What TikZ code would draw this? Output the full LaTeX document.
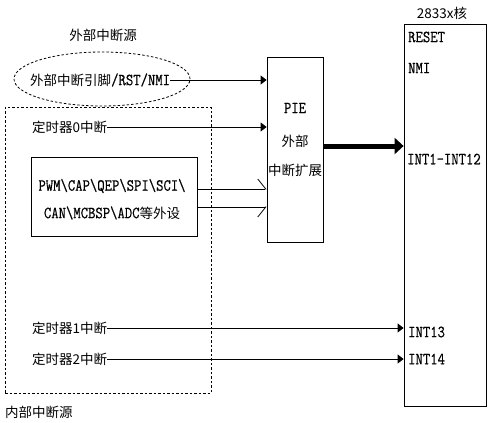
\documentclass[tikz,border=0pt]{standalone}
\usepackage{fontspec}
\setmainfont[FakeStretch=0.84,FakeBold=0.6]{Latin Modern Mono}
\newfontfamily\cjk{Noto Sans CJK SC}
\usetikzlibrary{arrows.meta,shapes.geometric}
\begin{document}
\begin{tikzpicture}[x=1pt,y=-1pt,
  font=\fontsize{17}{19}\selectfont,
  cjkfont/.style={font=\fontsize{13.5}{16}\selectfont},
  thin line/.style={line width=0.8pt},
  frame/.style={draw, thin line, inner sep=0pt},
  dashbox/.style={draw, line width=0.8pt, dash pattern=on 2.5pt off 2pt},
  lbl/.style={inner sep=0pt, anchor=west},
  sig/.style={thin line, -{Triangle[length=6pt,width=9pt]}},
  harpup/.style={thin line, -{Straight Barb[harpoon,length=8pt,width=20pt]}},
  harpdn/.style={thin line, -{Straight Barb[harpoon,swap,length=8pt,width=20pt]}},
  bus/.style={line width=5pt, -{Triangle[length=9pt,width=16pt]}}]
\useasboundingbox (0,0) rectangle (490,423);
\newcommand\zh[1]{{\fontsize{13.5}{16}\selectfont\cjk #1}}

% external source
\node[inner sep=0pt] (exttitle) at (103,35) {\zh{外部中断源}};
\node[dashbox, ellipse, minimum width=176pt, minimum height=54pt] (extell) at (102,79) {};
\node[lbl] (ext) at (30,80) {\zh{外部中断引脚}/RST/NMI};

% internal source frame
\node[dashbox, minimum width=206pt, minimum height=286pt, inner sep=0pt] (intframe) at (108,250) {};
\node[lbl] (inttitle) at (5,412) {\zh{内部中断源}};

\node[lbl] (t0) at (32,127) {\zh{定时器0中断}};
\node[frame, minimum width=166pt, minimum height=79pt] (periph) at (114,196.5) {};
\node[inner sep=0pt] (pl1) at (112,186) {PWM\textbackslash CAP\textbackslash QEP\textbackslash SPI\textbackslash SCI\textbackslash};
\node[inner sep=0pt] (pl2) at (112,213) {CAN\textbackslash MCBSP\textbackslash ADC\zh{等外设}};
\coordinate (po1) at (197,189);
\coordinate (po2) at (197,207);

\node[lbl] (t1) at (32,328) {\zh{定时器1中断}};
\node[lbl] (t2) at (32,359) {\zh{定时器2中断}};

% PIE
\node[frame, minimum width=56pt, minimum height=185pt] (pie) at (295,149.5) {};
\node[inner sep=0pt] (pie1) at (295,108) {PIE};
\node[inner sep=0pt] (pie2) at (295,141) {\zh{外部}};
\node[inner sep=0pt] (pie3) at (295,170) {\zh{中断扩展}};

% core
\node[frame, minimum width=82pt, minimum height=382pt] (core) at (445,215) {};
\node[inner sep=0pt] (coretitle) at (442,13) {\zh{2833x核}};
\node[lbl] (reset) at (408,37) {RESET};
\node[lbl] (nmi) at (408,68) {NMI};
\node[lbl] (int1) at (407,159) {INT1-INT12};
\node[lbl] (int13) at (408,332) {INT13};
\node[lbl] (int14) at (408,359) {INT14};

% connectors
\draw[sig] (ext.east) -- (ext.east -| pie.west);
\draw[sig] (t0.east) -- (t0.east -| pie.west);
\draw[harpup] (po1) -- (po1 -| pie.west);
\draw[harpdn] (po2) -- (po2 -| pie.west);
\draw[bus] (pie.east |- 0,146) -- (core.west |- 0,146);
\draw[sig] (t1.east) -- (t1.east -| core.west);
\draw[sig] (t2.east) -- (t2.east -| core.west);
\end{tikzpicture}
\end{document}
